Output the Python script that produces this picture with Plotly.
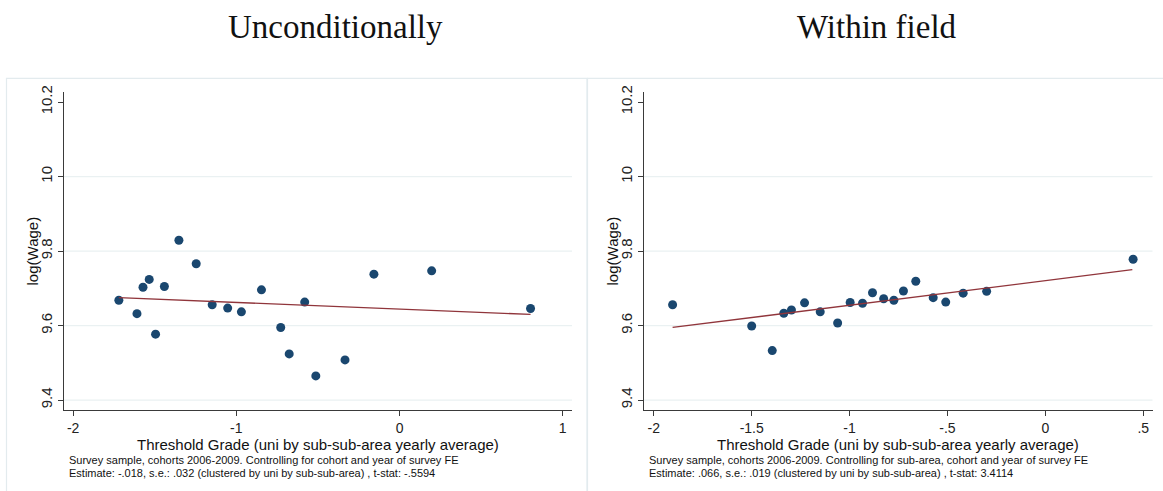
import plotly.graph_objects as go

# ---------------- data ----------------
left_x = [-1.720, -1.609, -1.572, -1.534, -1.495, -1.441, -1.352, -1.246, -1.148, -1.053,
          -0.969, -0.846, -0.728, -0.676, -0.581, -0.513, -0.334, -0.157, 0.197, 0.803]
left_y = [9.668, 9.632, 9.703, 9.724, 9.577, 9.705, 9.829, 9.766, 9.656, 9.647,
          9.637, 9.696, 9.595, 9.524, 9.663, 9.465, 9.508, 9.738, 9.747, 9.646]
left_fit_x = [-1.720, 0.803]
left_fit_y = [9.675, 9.630]

right_x = [-1.904, -1.500, -1.395, -1.336, -1.297, -1.230, -1.150, -1.061, -0.997, -0.934,
           -0.883, -0.826, -0.774, -0.725, -0.662, -0.573, -0.509, -0.420, -0.300, 0.448]
right_y = [9.656, 9.599, 9.533, 9.633, 9.642, 9.661, 9.637, 9.607, 9.662, 9.660,
           9.688, 9.672, 9.668, 9.693, 9.719, 9.675, 9.663, 9.687, 9.692, 9.778]
right_fit_x = [-1.904, 0.444]
right_fit_y = [9.595, 9.750]

y_ticks = [9.4, 9.6, 9.8, 10.0, 10.2]
y_ticklabels = ["9.4", "9.6", "9.8", "10", "10.2"]
y_grid = [9.4, 9.6, 9.8, 10.0]
left_xticks = [-2, -1, 0, 1]
left_xticklabels = ["-2", "-1", "0", "1"]
right_xticks = [-2, -1.5, -1, -0.5, 0, 0.5]
right_xticklabels = ["-2", "-1.5", "-1", "-.5", "0", ".5"]

titles = ["Unconditionally", "Within field"]
x_title = "Threshold Grade (uni by sub-sub-area yearly average)"
y_title = "log(Wage)"
left_notes = ["Survey sample, cohorts 2006-2009. Controlling for cohort and year of survey FE",
              "Estimate: -.018, s.e.: .032 (clustered by uni by sub-sub-area) , t-stat: -.5594"]
right_notes = ["Survey sample, cohorts 2006-2009. Controlling for sub-area, cohort and year of survey FE",
               "Estimate: .066, s.e.: .019 (clustered by uni by sub-sub-area) , t-stat: 3.4114"]

# ---------------- styling ----------------
W, H = 1163, 491
NAVY = "#1a476f"
MAROON = "#90353b"
GRID = "#eaf1f2"
AXIS = "#3a3a3a"
SANS = "Liberation Sans, Arial, sans-serif"
SERIF = "Liberation Serif, Times New Roman, serif"

def px(x):
    return x / W

def py(y):
    return (H - y) / H

fig = go.Figure()

fig.add_trace(go.Scatter(x=left_x, y=left_y, mode="markers", xaxis="x", yaxis="y",
                         marker=dict(color=NAVY, size=9), showlegend=False))
fig.add_trace(go.Scatter(x=left_fit_x, y=left_fit_y, mode="lines", xaxis="x", yaxis="y",
                         line=dict(color=MAROON, width=1.3), showlegend=False))
fig.add_trace(go.Scatter(x=right_x, y=right_y, mode="markers", xaxis="x2", yaxis="y2",
                         marker=dict(color=NAVY, size=9), showlegend=False))
fig.add_trace(go.Scatter(x=right_fit_x, y=right_fit_y, mode="lines", xaxis="x2", yaxis="y2",
                         line=dict(color=MAROON, width=1.3), showlegend=False))

y_dom = [py(408.5), py(86.7)]
left_dom = [px(63.7), px(572)]
right_dom = [px(644), px(1152.5)]

common_x = dict(showgrid=False, zeroline=False, showline=True, linecolor=AXIS, linewidth=1.2,
                ticks="outside", ticklen=5, tickcolor=AXIS, tickwidth=1.2,
                tickfont=dict(family=SANS, size=14, color="#222"), ticklabelstandoff=0)
common_y = dict(showgrid=False, zeroline=False, showline=True, linecolor=AXIS, linewidth=1.2,
                ticks="outside", ticklen=5, tickcolor=AXIS, tickwidth=1.2, tickangle=-90,
                tickvals=y_ticks, ticktext=y_ticklabels, range=[9.3744, 10.2256],
                tickfont=dict(family=SANS, size=15, color="#222"))

fig.update_layout(
    width=W, height=H, margin=dict(l=0, r=0, t=0, b=0),
    paper_bgcolor="white", plot_bgcolor="white",
    xaxis=dict(domain=left_dom, range=[-2.058, 1.057], tickvals=left_xticks,
               ticktext=left_xticklabels, anchor="y", **common_x),
    yaxis=dict(domain=y_dom, anchor="x", **common_y),
    xaxis2=dict(domain=right_dom, range=[-2.050, 0.547], tickvals=right_xticks,
                ticktext=right_xticklabels, anchor="y2", **common_x),
    yaxis2=dict(domain=y_dom, anchor="x2", **common_y),
)

shapes = []
# panel borders
shapes.append(dict(type="rect", xref="paper", yref="paper", x0=px(6.5), x1=px(587), y0=py(495),
                   y1=py(72.5), line=dict(color="#e3ebee", width=1.2), fillcolor="rgba(0,0,0,0)",
                   layer="below"))
shapes.append(dict(type="rect", xref="paper", yref="paper", x0=px(587.5), x1=px(1170), y0=py(495),
                   y1=py(72.5), line=dict(color="#e3ebee", width=1.2), fillcolor="rgba(0,0,0,0)",
                   layer="below"))
# gridlines
for xr, yr in (("x domain", "y"), ("x2 domain", "y2")):
    for g in y_grid:
        shapes.append(dict(type="line", xref=xr, yref=yr, x0=0, x1=1, y0=g, y1=g,
                           line=dict(color=GRID, width=1.3), layer="below"))
fig.update_layout(shapes=shapes)

ann = []
# titles
ann.append(dict(text=titles[0], x=px(335), y=py(20), xref="paper", yref="paper",
                showarrow=False, font=dict(family=SERIF, size=33, color="#111"),
                xanchor="center", yanchor="middle"))
ann.append(dict(text=titles[1], x=px(877), y=py(20), xref="paper", yref="paper",
                showarrow=False, font=dict(family=SERIF, size=33, color="#111"),
                xanchor="center", yanchor="middle"))
# axis titles
for cx, ycx in ((318, 32), (898, 612)):
    ann.append(dict(text=x_title, x=px(cx), y=py(444), xref="paper", yref="paper",
                    showarrow=False, font=dict(family=SANS, size=15, color="#111"),
                    xanchor="center", yanchor="middle"))
    ann.append(dict(text=y_title, x=px(ycx), y=py(248), xref="paper", yref="paper",
                    showarrow=False, textangle=-90, font=dict(family=SANS, size=15, color="#111"),
                    xanchor="center", yanchor="middle"))
# notes
for nx, notes in ((66.5, left_notes), (647, right_notes)):
    for i, line in enumerate(notes):
        ann.append(dict(text=line, x=px(nx), y=py(460 + 12.7 * i), xref="paper", yref="paper",
                        showarrow=False, font=dict(family=SANS, size=11, color="#111"),
                        xanchor="left", yanchor="middle"))
fig.update_layout(annotations=ann)

fig.write_html("out.html", config={"displayModeBar": False},
               post_script="document.body.style.margin='0px';")
